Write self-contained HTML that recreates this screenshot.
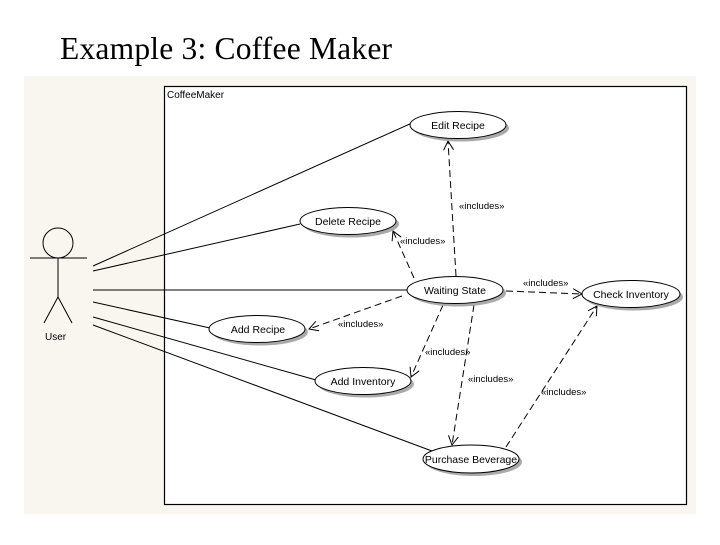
<!DOCTYPE html>
<html><head><style>
body{margin:0;background:#fff;}
</style></head><body>
<svg width="720" height="540" xmlns="http://www.w3.org/2000/svg" font-family="Liberation Sans, sans-serif">
<defs>
<marker id="a" markerWidth="12" markerHeight="12" refX="10" refY="6" orient="auto" markerUnits="userSpaceOnUse">
<path d="M1,1 L10,6 L1,11" fill="none" stroke="#000" stroke-width="1"/>
</marker>
</defs>
<rect width="720" height="540" fill="#fff"/>
<text x="60" y="59" font-family="Liberation Serif, serif" font-size="31.5" textLength="332">Example 3: Coffee Maker</text>
<rect x="24" y="76" width="672" height="438" fill="#f8f6ef"/>
<rect x="164.5" y="86.5" width="522" height="418" fill="#fff" stroke="#000" stroke-width="1.2"/>
<text x="167" y="98" font-size="10">CoffeeMaker</text>
<g stroke="#000" fill="none" stroke-width="1">
<circle cx="58" cy="243" r="15"/>
<line x1="30" y1="258" x2="87" y2="258"/>
<line x1="58" y1="258" x2="58" y2="297"/>
<line x1="58" y1="297" x2="44" y2="323"/>
<line x1="58" y1="297" x2="72" y2="323"/>
<line x1="93" y1="266" x2="412" y2="123"/>
<line x1="93" y1="271" x2="300" y2="224"/>
<line x1="93" y1="290" x2="407" y2="290"/>
<line x1="93" y1="302" x2="210" y2="328"/>
<line x1="93" y1="317" x2="316" y2="380"/>
<line x1="93" y1="325" x2="432" y2="451"/>
</g>
<text x="45" y="340" font-size="10">User</text>
<g stroke="#000" fill="none" stroke-width="1" stroke-dasharray="7,4" marker-end="url(#a)">
<line x1="456" y1="276" x2="448" y2="141"/>
<line x1="414" y1="278" x2="393" y2="231"/>
<line x1="506" y1="291" x2="582" y2="294"/>
<line x1="402" y1="296" x2="309" y2="329"/>
<line x1="443" y1="305" x2="411" y2="377"/>
<line x1="474" y1="305" x2="452" y2="445"/>
<line x1="506" y1="447" x2="597" y2="306"/>
</g>
<g font-size="9.5">
<text x="459" y="209">«includes»</text>
<text x="400" y="244">«includes»</text>
<text x="523" y="286">«includes»</text>
<text x="338" y="327">«includes»</text>
<text x="425" y="355">«includes»</text>
<text x="468" y="382">«includes»</text>
<text x="541" y="395">«includes»</text>
</g>
<g stroke-width="1">
<g transform="translate(458,125)"><ellipse cx="3" cy="3" rx="48" ry="13.5" fill="#aaa"/><ellipse rx="48" ry="13.5" fill="#fff" stroke="#000"/></g>
<g transform="translate(348,221)"><ellipse cx="3" cy="3" rx="48" ry="13.5" fill="#aaa"/><ellipse rx="48" ry="13.5" fill="#fff" stroke="#000"/></g>
<g transform="translate(455,290)"><ellipse cx="3" cy="3" rx="48" ry="13.5" fill="#aaa"/><ellipse rx="48" ry="13.5" fill="#fff" stroke="#000"/></g>
<g transform="translate(631,294)"><ellipse cx="3" cy="3" rx="49" ry="13.5" fill="#aaa"/><ellipse rx="49" ry="13.5" fill="#fff" stroke="#000"/></g>
<g transform="translate(257,329)"><ellipse cx="3" cy="3" rx="48" ry="13.5" fill="#aaa"/><ellipse rx="48" ry="13.5" fill="#fff" stroke="#000"/></g>
<g transform="translate(363,381)"><ellipse cx="3" cy="3" rx="48" ry="13.5" fill="#aaa"/><ellipse rx="48" ry="13.5" fill="#fff" stroke="#000"/></g>
<g transform="translate(471,459)"><ellipse cx="3" cy="3" rx="48" ry="14" fill="#aaa"/><ellipse rx="48" ry="14" fill="#fff" stroke="#000"/></g>
</g>
<g font-size="10.5" text-anchor="middle">
<text x="458" y="129">Edit Recipe</text>
<text x="348" y="225">Delete Recipe</text>
<text x="455" y="294">Waiting State</text>
<text x="631" y="298">Check Inventory</text>
<text x="258" y="333">Add Recipe</text>
<text x="363" y="385">Add Inventory</text>
<text x="471" y="463">Purchase Beverage</text>
</g>
</svg>
</body></html>
